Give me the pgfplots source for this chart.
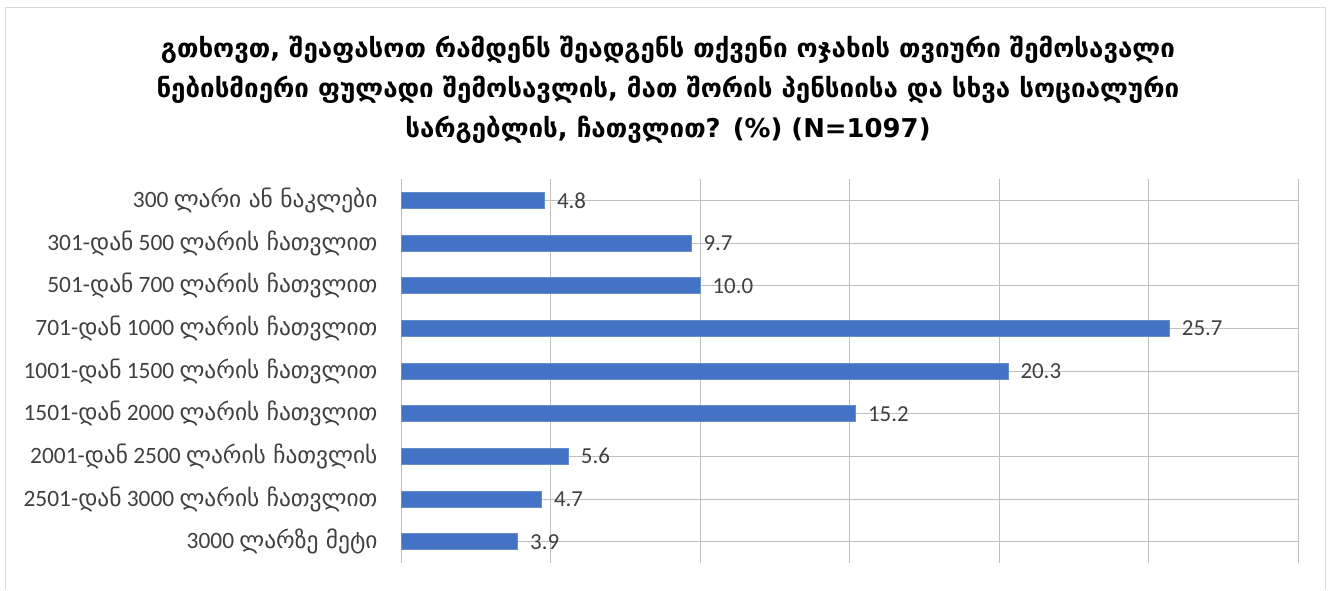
\documentclass[border=0pt]{standalone}
\usepackage{fontspec}
\usepackage{pgfplots}
\pgfplotsset{compat=1.18}
\setmainfont{Carlito}
\newfontfamily\geo{DejaVu Sans}
\newfontfamily\geob{DejaVu Sans Bold}
\definecolor{barblue}{HTML}{4472C4}
\definecolor{txt}{HTML}{404040}
\definecolor{grid}{HTML}{D9D9D9}
\begin{document}
\begin{tikzpicture}[x=1bp,y=1bp]
\fill[white] (0,0) rectangle (1328,585);
\draw[grid, line width=1bp] (5,-5) -- (5,577) -- (1325,577) -- (1325,-5);
\clip (0,0) rectangle (1328,585);
\node[align=center, font=\geob\fontsize{26}{40}\selectfont, text=black] at (668,495)
{გთხოვთ, შეაფასოთ რამდენს შეადგენს თქვენი ოჯახის თვიური შემოსავალი\\
ნებისმიერი ფულადი შემოსავლის, მათ შორის პენსიისა და სხვა სოციალური\\
სარგებლის, ჩათვლით? (\%) (N=1097)};
\begin{axis}[
  at={(401bp,22bp)}, anchor=south west,
  scale only axis, width=897bp, height=384bp,
  xmin=0, xmax=30, ymin=-0.5, ymax=8.5, y dir=reverse,
  xtick={0,5,...,30}, xticklabels={},
  xmajorgrids, grid style={grid, line width=1bp},
  ytick={0,...,8},
  yticklabels={
    {300 {\geo ლარი ან ნაკლები}},
    {301-{\geo დან} 500 {\geo ლარის ჩათვლით}},
    {501-{\geo დან} 700 {\geo ლარის ჩათვლით}},
    {701-{\geo დან} 1000 {\geo ლარის ჩათვლით}},
    {1001-{\geo დან} 1500 {\geo ლარის ჩათვლით}},
    {1501-{\geo დან} 2000 {\geo ლარის ჩათვლით}},
    {2001-{\geo დან} 2500 {\geo ლარის ჩათვლის}},
    {2501-{\geo დან} 3000 {\geo ლარის ჩათვლით}},
    {3000 {\geo ლარზე მეტი}}},
  yticklabel style={font=\fontsize{23.5}{27}\selectfont, text=txt, xshift=-20bp},
  major tick length=0pt,
  axis line style={draw=none},
  xbar, bar width=16bp,
  nodes near coords,
  nodes near coords style={font=\fontsize{23}{26}\selectfont, text=txt, xshift=9bp,
    /pgf/number format/assume math mode=true,
    /pgf/number format/fixed, /pgf/number format/precision=1, /pgf/number format/fixed zerofill},
  point meta=x,
]
\addplot[fill=barblue, draw=barblue!80!white] coordinates {
(4.8,0) (9.7,1) (10.0,2) (25.7,3) (20.3,4) (15.2,5) (5.6,6) (4.7,7) (3.9,8)};
\end{axis}
\end{tikzpicture}
\end{document}
